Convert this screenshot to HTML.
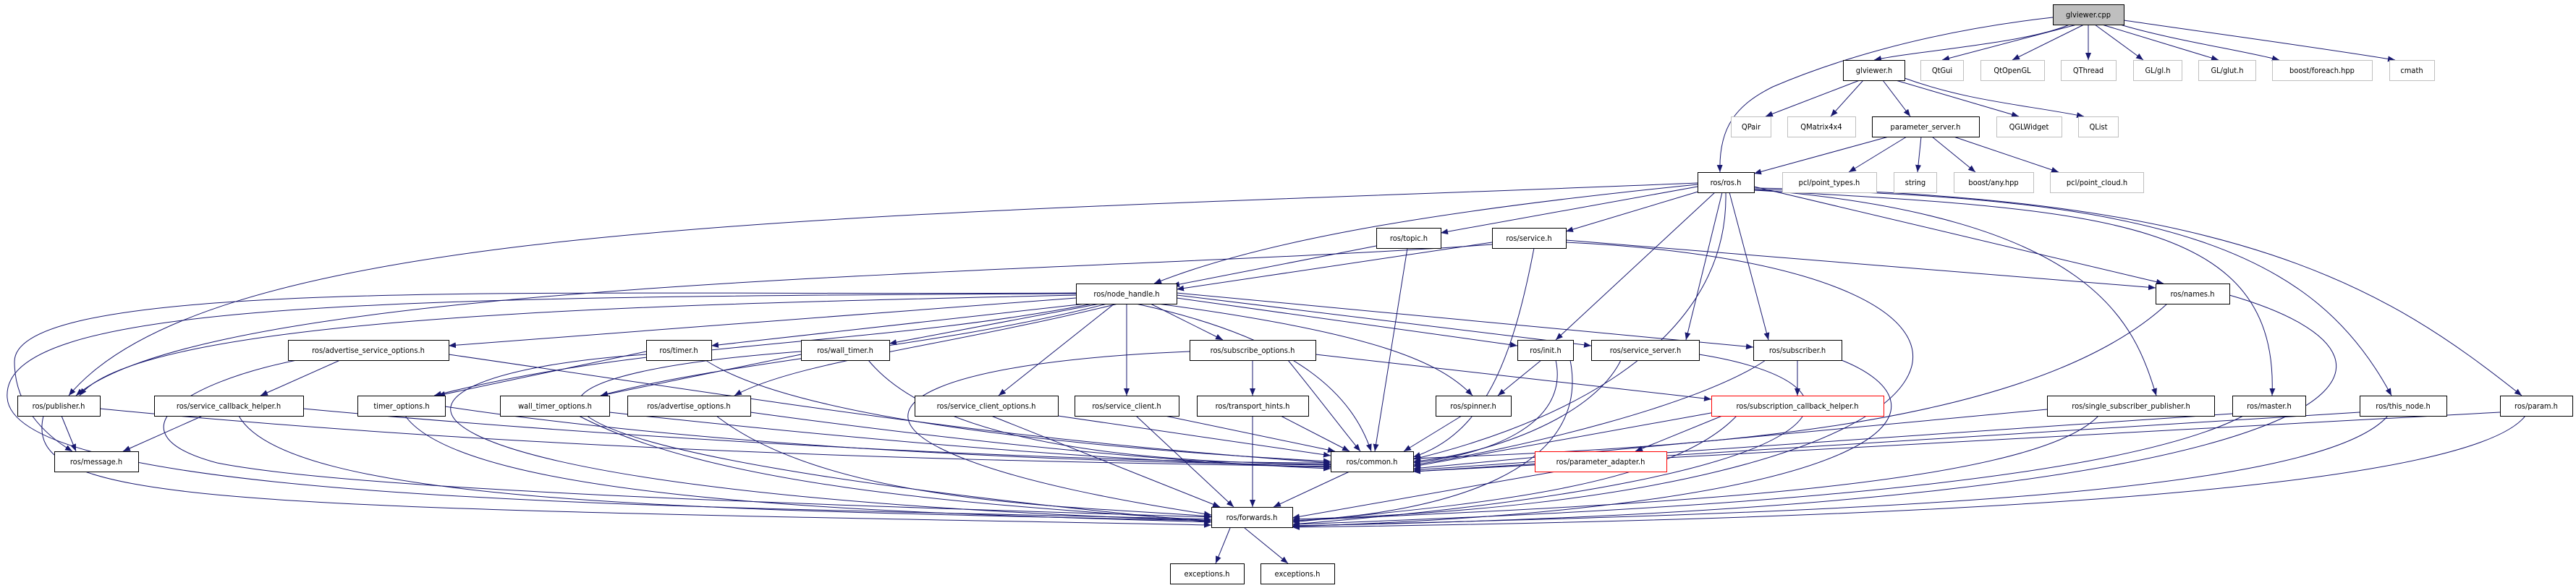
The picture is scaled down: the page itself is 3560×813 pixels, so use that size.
<!DOCTYPE html>
<html><head><meta charset="utf-8"><style>
html,body{margin:0;padding:0;background:#fff;}
svg{display:block;}
text{font-family:"DejaVu Sans Condensed","Liberation Sans Narrow","Liberation Sans",sans-serif;font-size:11px;fill:#000;}
</style></head><body>
<svg width="3560" height="813" viewBox="0 0 3560 813" xmlns="http://www.w3.org/2000/svg">
<defs><marker id="a" markerUnits="userSpaceOnUse" markerWidth="11" markerHeight="8" refX="10" refY="4" orient="auto"><path d="M0,0 L10,4 L0,8 z" fill="#191970"/></marker></defs>
<g fill="none" stroke="#191970" stroke-width="1" marker-end="url(#a)">
<path d="M2860,34 C2800,60 2650,70 2590,83"/>
<path d="M2870,34 L2684,83"/>
<path d="M2880,34 L2781,83"/>
<path d="M2886,34 L2886,83"/>
<path d="M2895,34 L2962,83"/>
<path d="M2905,34 L3066,83"/>
<path d="M2930,34 C3000,55 3100,70 3150,83"/>
<path d="M2935,28 C3050,45 3200,65 3310,83"/>
<path d="M2837,24 C2650,45 2520,90 2450,120 C2400,145 2375,175 2377,238"/>
<path d="M2570,111 L2440,161"/>
<path d="M2575,111 L2530,161"/>
<path d="M2602,111 L2640,161"/>
<path d="M2620,111 L2790,161"/>
<path d="M2632,108 C2720,140 2800,145 2880,161"/>
<path d="M2610,189 L2424,240"/>
<path d="M2635,189 L2555,238"/>
<path d="M2655,189 L2650,238"/>
<path d="M2670,189 L2730,238"/>
<path d="M2700,189 L2845,238"/>
<path d="M2346,258 L1991,322"/>
<path d="M2350,264 L2164,320"/>
<path d="M2346,255 C2000,290 1750,330 1595,392"/>
<path d="M2346,253 C1200,300 300,300 95,547"/>
<path d="M2370,266 L2150,470"/>
<path d="M2380,266 L2330,470"/>
<path d="M2385,266 C2390,500 2100,600 1953,635"/>
<path d="M2390,266 L2444,470"/>
<path d="M2424,258 L2990,392"/>
<path d="M2424,262 C2900,300 2950,450 2980,547"/>
<path d="M2424,263 C2900,290 3150,300 3140,547"/>
<path d="M2424,262 C3000,270 3200,350 3305,547"/>
<path d="M2424,260 C3100,270 3300,400 3485,547"/>
<path d="M2062,335 L1626,400"/>
<path d="M2062,338 C1500,380 300,380 105,547"/>
<path d="M2164,332 L2979,398"/>
<path d="M2120,343 C2090,500 2050,600 1953,632"/>
<path d="M2164,335 C2900,370 2800,690 1786,718"/>
<path d="M1902,340 L1620,395"/>
<path d="M1945,343 L1900,624"/>
<path d="M1487,408 C1000,420 200,430 110,547"/>
<path d="M1487,405 C800,410 20,380 20,500 C20,560 60,600 100,624"/>
<path d="M1487,406 C500,410 0,420 10,550 C20,700 1000,700 1674,718"/>
<path d="M1487,412 L620,478"/>
<path d="M1500,420 L983,478"/>
<path d="M1520,420 L1229,475"/>
<path d="M1510,420 C1200,480 900,470 600,547"/>
<path d="M1530,420 C1300,480 1000,500 830,547"/>
<path d="M1545,420 C1300,480 1100,500 1015,547"/>
<path d="M1540,420 L1380,547"/>
<path d="M1557,420 L1557,547"/>
<path d="M1590,420 L1690,470"/>
<path d="M1570,420 C1800,470 1870,550 1895,624"/>
<path d="M1600,420 C1900,460 1990,500 2035,547"/>
<path d="M1626,412 L2097,478"/>
<path d="M1626,408 L2199,478"/>
<path d="M1626,405 L2423,480"/>
<path d="M470,498 L360,547"/>
<path d="M620,490 C1100,560 1400,610 1839,640"/>
<path d="M410,498 C250,530 150,600 300,640 C500,680 1200,700 1674,715"/>
<path d="M893,486 L605,547"/>
<path d="M975,498 C1100,580 1500,620 1839,638"/>
<path d="M893,490 C450,520 450,680 1674,720"/>
<path d="M1107,490 L830,547"/>
<path d="M1200,498 C1300,620 1600,640 1839,642"/>
<path d="M1107,486 C650,520 600,620 1674,722"/>
<path d="M85,575 L105,624"/>
<path d="M60,575 C30,700 300,700 1674,726"/>
<path d="M138,565 C800,630 1500,640 1839,645"/>
<path d="M280,575 L170,624"/>
<path d="M330,575 C400,700 1000,705 1674,720"/>
<path d="M419,565 C900,610 1500,640 1839,640"/>
<path d="M615,562 C1000,620 1500,640 1839,643"/>
<path d="M560,575 C650,700 1300,710 1674,722"/>
<path d="M842,570 C1300,620 1600,640 1839,646"/>
<path d="M800,575 C1000,680 1400,700 1674,720"/>
<path d="M1037,570 C1400,620 1650,640 1839,648"/>
<path d="M990,575 C1150,700 1500,700 1674,714"/>
<path d="M1462,575 L1839,630"/>
<path d="M1370,575 L1686,701"/>
<path d="M1610,575 L1845,624"/>
<path d="M1570,575 L1705,701"/>
<path d="M1770,575 L1865,624"/>
<path d="M1731,575 L1731,701"/>
<path d="M1731,498 L1731,547"/>
<path d="M1780,498 C1830,560 1860,600 1880,624"/>
<path d="M1644,486 C1300,500 1180,560 1300,620 C1400,670 1600,700 1674,712"/>
<path d="M1818,490 L2365,552"/>
<path d="M2020,575 L1940,624"/>
<path d="M2130,498 L2070,547"/>
<path d="M2150,498 C2170,590 2050,630 1953,640"/>
<path d="M2170,498 C2200,650 2000,710 1786,720"/>
<path d="M2240,498 C2200,580 2050,630 1953,638"/>
<path d="M2348,490 C2600,530 2600,660 1786,725"/>
<path d="M2484,498 L2484,547"/>
<path d="M2440,498 C2350,560 2100,620 1953,643"/>
<path d="M2545,498 C2700,560 2650,700 1786,728"/>
<path d="M2380,575 L2260,624"/>
<path d="M2370,570 L1953,645"/>
<path d="M2400,575 C2300,680 2000,700 1786,722"/>
<path d="M2150,652 L1786,716"/>
<path d="M2995,420 C2800,600 2300,620 1953,634"/>
<path d="M3081,408 C3400,500 3300,700 1786,727"/>
<path d="M2829,566 L1953,648"/>
<path d="M2900,575 C2800,680 2200,700 1786,720"/>
<path d="M3085,572 L1953,650"/>
<path d="M3100,575 C2900,680 2200,710 1786,725"/>
<path d="M3261,570 L1953,652"/>
<path d="M3300,575 C3200,690 2500,710 1786,727"/>
<path d="M3455,570 L1953,652"/>
<path d="M3490,575 C3400,690 2500,720 1786,729"/>
<path d="M1865,652 L1760,701"/>
<path d="M1700,730 L1680,779"/>
<path d="M1720,730 L1780,779"/>
</g>
<g stroke-width="1">
<g fill="#fff" stroke="#bfbfbf">
<rect x="2654.5" y="83.5" width="59" height="28"/><rect x="2737.5" y="83.5" width="88" height="28"/>
<rect x="2848.5" y="83.5" width="76" height="28"/><rect x="2948.5" y="83.5" width="67" height="28"/>
<rect x="3038.5" y="83.5" width="79" height="28"/><rect x="3140.5" y="83.5" width="138" height="28"/>
<rect x="3302.5" y="83.5" width="62" height="28"/>
<rect x="2392.5" y="161.5" width="55" height="28"/><rect x="2470.5" y="161.5" width="94" height="28"/>
<rect x="2759.5" y="161.5" width="90" height="28"/><rect x="2872.5" y="161.5" width="55" height="28"/>
<rect x="2463.5" y="238.5" width="130" height="28"/><rect x="2617.5" y="238.5" width="59" height="28"/>
<rect x="2700.5" y="238.5" width="110" height="28"/><rect x="2833.5" y="238.5" width="129" height="28"/>
</g>
<g fill="#fff" stroke="#ff0000">
<rect x="2365.5" y="547.5" width="238" height="28"/><rect x="2121.5" y="624.5" width="182" height="28"/>
</g>
<rect x="2837.5" y="6.5" width="98" height="28" fill="#bfbfbf" stroke="#000"/>
<g fill="#fff" stroke="#000">
<rect x="2547.5" y="83.5" width="85" height="28"/>
<rect x="2587.5" y="161.5" width="148" height="28"/>
<rect x="2346.5" y="238.5" width="78" height="28"/>
<rect x="1902.5" y="315.5" width="89" height="28"/><rect x="2062.5" y="315.5" width="102" height="28"/>
<rect x="1487.5" y="392.5" width="139" height="28"/><rect x="2979.5" y="392.5" width="102" height="28"/>
<rect x="398.5" y="470.5" width="222" height="28"/><rect x="893.5" y="470.5" width="90" height="28"/>
<rect x="1107.5" y="470.5" width="122" height="28"/><rect x="1644.5" y="470.5" width="174" height="28"/>
<rect x="2097.5" y="470.5" width="77" height="28"/><rect x="2199.5" y="470.5" width="149" height="28"/>
<rect x="2423.5" y="470.5" width="122" height="28"/>
<rect x="24.5" y="547.5" width="114" height="28"/><rect x="213.5" y="547.5" width="206" height="28"/>
<rect x="494.5" y="547.5" width="121" height="28"/><rect x="691.5" y="547.5" width="151" height="28"/>
<rect x="867.5" y="547.5" width="170" height="28"/><rect x="1264.5" y="547.5" width="198" height="28"/>
<rect x="1485.5" y="547.5" width="144" height="28"/><rect x="1654.5" y="547.5" width="154" height="28"/>
<rect x="1984.5" y="547.5" width="104" height="28"/><rect x="2829.5" y="547.5" width="231" height="28"/>
<rect x="3085.5" y="547.5" width="101" height="28"/><rect x="3261.5" y="547.5" width="120" height="28"/>
<rect x="3455.5" y="547.5" width="100" height="28"/>
<rect x="75.5" y="624.5" width="116" height="28"/><rect x="1839.5" y="624.5" width="114" height="28"/>
<rect x="1674.5" y="701.5" width="112" height="28"/>
<rect x="1617.5" y="779.5" width="102" height="28"/><rect x="1742.5" y="779.5" width="102" height="28"/>
</g>
</g>
<g text-anchor="middle">
<text x="2886" y="24">glviewer.cpp</text>
<text x="2590" y="101">glviewer.h</text><text x="2684" y="101">QtGui</text><text x="2781" y="101">QtOpenGL</text>
<text x="2886" y="101">QThread</text><text x="2982" y="101">GL/gl.h</text><text x="3078" y="101">GL/glut.h</text>
<text x="3209" y="101">boost/foreach.hpp</text><text x="3333" y="101">cmath</text>
<text x="2420" y="179">QPair</text><text x="2517" y="179">QMatrix4x4</text><text x="2661" y="179">parameter_server.h</text>
<text x="2804" y="179">QGLWidget</text><text x="2900" y="179">QList</text>
<text x="2385" y="256">ros/ros.h</text><text x="2528" y="256">pcl/point_types.h</text><text x="2647" y="256">string</text>
<text x="2755" y="256">boost/any.hpp</text><text x="2898" y="256">pcl/point_cloud.h</text>
<text x="1947" y="333">ros/topic.h</text><text x="2113" y="333">ros/service.h</text>
<text x="1557" y="410">ros/node_handle.h</text><text x="3030" y="410">ros/names.h</text>
<text x="509" y="488">ros/advertise_service_options.h</text><text x="938" y="488">ros/timer.h</text>
<text x="1168" y="488">ros/wall_timer.h</text><text x="1731" y="488">ros/subscribe_options.h</text>
<text x="2136" y="488">ros/init.h</text><text x="2274" y="488">ros/service_server.h</text><text x="2484" y="488">ros/subscriber.h</text>
<text x="81" y="565">ros/publisher.h</text><text x="316" y="565">ros/service_callback_helper.h</text>
<text x="555" y="565">timer_options.h</text><text x="767" y="565">wall_timer_options.h</text>
<text x="952" y="565">ros/advertise_options.h</text><text x="1363" y="565">ros/service_client_options.h</text>
<text x="1557" y="565">ros/service_client.h</text><text x="1731" y="565">ros/transport_hints.h</text>
<text x="2036" y="565">ros/spinner.h</text><text x="2484" y="565">ros/subscription_callback_helper.h</text>
<text x="2945" y="565">ros/single_subscriber_publisher.h</text><text x="3136" y="565">ros/master.h</text>
<text x="3321" y="565">ros/this_node.h</text><text x="3505" y="565">ros/param.h</text>
<text x="133" y="642">ros/message.h</text><text x="1896" y="642">ros/common.h</text><text x="2212" y="642">ros/parameter_adapter.h</text>
<text x="1730" y="719">ros/forwards.h</text>
<text x="1668" y="797">exceptions.h</text><text x="1793" y="797">exceptions.h</text>
</g>
</svg>
</body></html>
